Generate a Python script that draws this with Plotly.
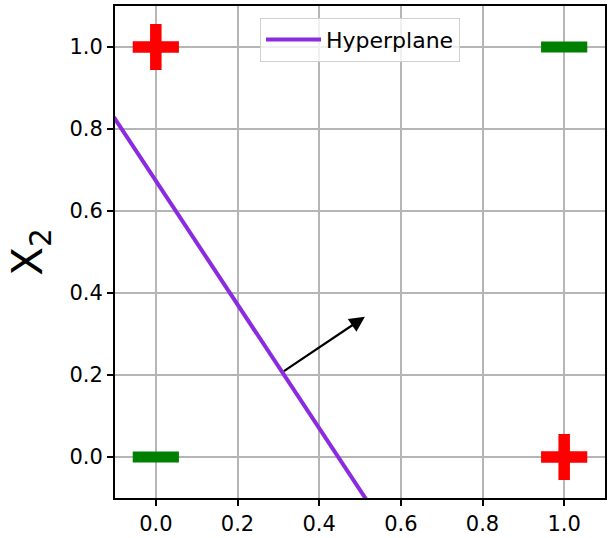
import plotly.graph_objects as go

# Data
plus_x = [0, 1]
plus_y = [1, 0]
minus_x = [1, 0]
minus_y = [1, 0]
hyper_x = [-0.15, 0.55]
hyper_y = [0.90, -0.156]
arrow_start = [0.31, 0.207]
arrow_end = [0.512, 0.342]
tick_vals = [0.0, 0.2, 0.4, 0.6, 0.8, 1.0]
tick_text = ["0.0", "0.2", "0.4", "0.6", "0.8", "1.0"]

fig = go.Figure()
fig.add_trace(go.Scatter(x=hyper_x, y=hyper_y, mode="lines", name="Hyperplane",
                         line=dict(color="#8A2BE2", width=4)))
fig.add_trace(go.Scatter(x=plus_x, y=plus_y, mode="markers", showlegend=False,
                         marker=dict(symbol="cross-thin", size=33,
                                     line=dict(color="#ff0000", width=11.5))))
fig.add_trace(go.Scatter(x=minus_x, y=minus_y, mode="markers", showlegend=False,
                         marker=dict(symbol="line-ew", size=33,
                                     line=dict(color="#008000", width=11))))

fig.add_annotation(x=arrow_end[0], y=arrow_end[1], ax=arrow_start[0], ay=arrow_start[1],
                   xref="x", yref="y", axref="x", ayref="y", text="", showarrow=True,
                   arrowhead=2, arrowsize=1.4, arrowwidth=2.2, arrowcolor="black")

axis_common = dict(range=[-0.1, 1.1], tickvals=tick_vals, ticktext=tick_text,
                   showgrid=True, gridcolor="#b5b5b5", gridwidth=1.5,
                   showline=True, linecolor="black", linewidth=2, mirror=True,
                   ticks="outside", ticklen=6, tickwidth=2, tickcolor="black",
                   zeroline=False, tickfont=dict(size=21, color="black"))

fig.update_xaxes(**axis_common)
fig.update_yaxes(**axis_common, title=dict(text="X<sub>2</sub>", font=dict(size=42, color="black"), standoff=14))

fig.update_layout(
    width=610, height=538,
    margin=dict(l=115, r=5, t=6, b=40, autoexpand=False),
    plot_bgcolor="white", paper_bgcolor="white",
    font=dict(family="DejaVu Sans", color="black"),
    legend=dict(x=0.5, xanchor="center", y=0.976, yanchor="top",
                bgcolor="rgba(255,255,255,0.8)", bordercolor="#d0d0d0", borderwidth=1,
                font=dict(size=22), itemwidth=55),
)

fig.write_html("out.html", config={"displayModeBar": False},
               post_script="document.body.style.margin='0';")
